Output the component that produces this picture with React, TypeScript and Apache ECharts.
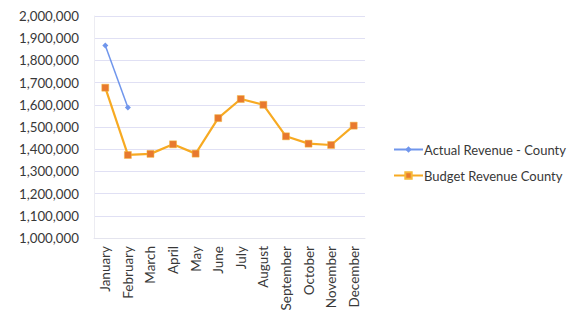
import React, { useEffect, useRef } from "react";
import * as echarts from "echarts";

const months = ["January","February","March","April","May","June","July","August","September","October","November","December"];
const actualRevenue: (number | null)[] = [1867000, 1588000, null, null, null, null, null, null, null, null, null, null];
const budgetRevenue = [1677000, 1374000, 1379000, 1422000, 1380000, 1540000, 1626000, 1600000, 1458000, 1425000, 1419000, 1506000];

export default function App() {
  const ref = useRef<HTMLDivElement>(null);
  useEffect(() => {
    const chart = echarts.init(ref.current!, null, { renderer: "svg" });
    const font = "Lato, 'Open Sans', sans-serif";
    chart.setOption({
      animation: false,
      backgroundColor: "#ffffff",
      textStyle: { fontFamily: font },
      grid: { left: 94, right: 204, top: 16, bottom: 80, containLabel: false },
      legend: {
        orient: "vertical",
        left: 388,
        top: 138,
        itemWidth: 29,
        itemHeight: 8,
        itemGap: 13,
        textStyle: { fontFamily: font, fontSize: 13, color: "#383838", padding: [0, 0, 0, -4] },
        data: ["Actual Revenue - County", "Budget Revenue County"],
      },
      xAxis: {
        type: "category",
        data: months,
        boundaryGap: true,
        axisLine: { show: true, lineStyle: { color: "#e4e4ee" } },
        axisTick: { show: false },
        axisLabel: { rotate: 90, fontSize: 13.5, color: "#383838", margin: 8, interval: 0, fontFamily: font },
      },
      yAxis: {
        type: "value",
        min: 1000000,
        max: 2000000,
        interval: 100000,
        axisLine: { show: true, lineStyle: { color: "#ececf2" } },
        axisTick: { show: false },
        splitLine: { lineStyle: { color: "#e0e0f4", width: 1 } },
        axisLabel: {
          fontSize: 13.3,
          color: "#383838",
          margin: 15,
          fontFamily: font,
          formatter: (v: number) => v.toLocaleString("en-US"),
        },
      },
      series: [
        {
          name: "Actual Revenue - County",
          type: "line",
          data: actualRevenue,
          connectNulls: false,
          symbol: "diamond",
          symbolSize: 6,
          lineStyle: { color: "#7096ec", width: 1.5 },
          itemStyle: { color: "#7096ec" },
        },
        {
          name: "Budget Revenue County",
          type: "line",
          data: budgetRevenue,
          symbol: "rect",
          symbolSize: 7,
          lineStyle: { color: "#f7aa22", width: 2.2 },
          itemStyle: { color: "#e8792e", borderColor: "#f5b83a", borderWidth: 0.5 },
        },
      ],
    });
    return () => chart.dispose();
  }, []);
  return <div ref={ref} style={{ position: "fixed", left: 0, top: 0, width: 569, height: 318 }} />;
}
